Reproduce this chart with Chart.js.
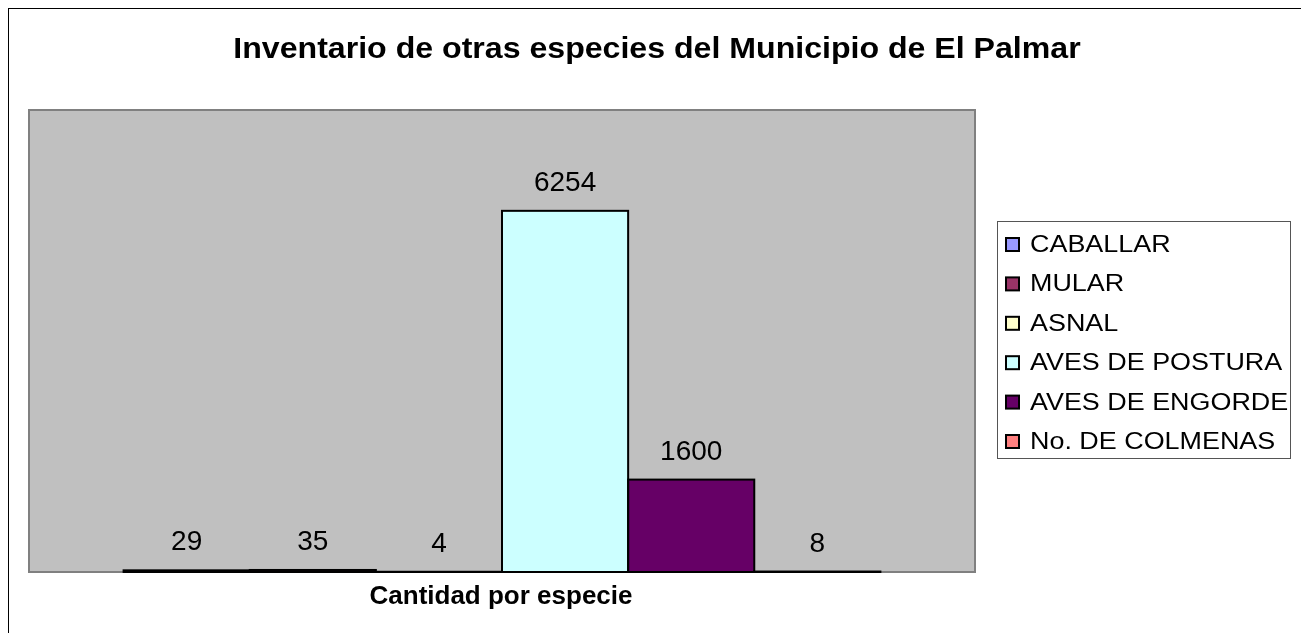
<!DOCTYPE html>
<html>
<head>
<meta charset="utf-8">
<script src="https://cdn.jsdelivr.net/npm/chart.js@4/dist/chart.umd.min.js"></script>
<style>
  html, body { margin: 0; padding: 0; background: #ffffff; }
  #c { display: block; }
</style>
</head>
<body>
<canvas id="c" width="1301" height="633"></canvas>
<script>
// ---- Data ----
const categories = ["Cantidad por especie"];
const seriesNames = ["CABALLAR", "MULAR", "ASNAL", "AVES DE POSTURA", "AVES DE ENGORDE", "No. DE COLMENAS"];
const seriesValues = [29, 35, 4, 6254, 1600, 8];
const seriesColors = ["#9999FF", "#993366", "#FFFFCC", "#CCFFFF", "#660066", "#FF8080"];
const chartTitle = "Inventario de otras especies del Municipio de El Palmar";
const axisTitle = "Cantidad por especie";

const FONT = "'Liberation Sans', Arial, sans-serif";

function drawText(ctx, text, x, y, font, align, sx) {
  ctx.save();
  ctx.font = font;
  ctx.fillStyle = "#000000";
  ctx.textBaseline = "alphabetic";
  ctx.textAlign = align;
  ctx.translate(x, y);
  ctx.scale(sx, 1);
  ctx.fillText(text, 0, 0);
  ctx.restore();
}

const decorPlugin = {
  id: "decor",
  beforeDraw(chart) {
    const ctx = chart.ctx;
    const a = chart.chartArea;
    ctx.save();
    ctx.fillStyle = "#ffffff";
    ctx.fillRect(0, 0, chart.width, chart.height);
    // outer chart border
    ctx.strokeStyle = "#000000";
    ctx.lineWidth = 1;
    ctx.strokeRect(8.5, 8.5, 1300, 640);
    // plot area
    ctx.fillStyle = "#C0C0C0";
    ctx.fillRect(a.left, a.top, a.right - a.left, a.bottom - a.top);
    ctx.strokeStyle = "#808080";
    ctx.lineWidth = 2;
    ctx.strokeRect(a.left, a.top, a.right - a.left, a.bottom - a.top);
    ctx.restore();
  },
  afterDatasetsDraw(chart) {
    const ctx = chart.ctx;
    // bar outlines
    chart.data.datasets.forEach((ds, i) => {
      const meta = chart.getDatasetMeta(i);
      meta.data.forEach((bar) => {
        const p = bar.getProps(["x", "y", "base", "width"], true);
        ctx.save();
        ctx.strokeStyle = "#000000";
        ctx.lineWidth = 2;
        ctx.strokeRect(p.x - p.width / 2, p.y, p.width, p.base - p.y);
        ctx.restore();
      });
    });
    // value labels
    chart.data.datasets.forEach((ds, i) => {
      const meta = chart.getDatasetMeta(i);
      meta.data.forEach((bar, j) => {
        drawText(ctx, String(ds.data[j]), bar.x, bar.y - 20, "28px " + FONT, "center", 1.0);
      });
    });
  },
  afterDraw(chart) {
    const ctx = chart.ctx;
    // title
    drawText(ctx, chartTitle, 657, 58, "bold 30px " + FONT, "center", 1.07);
    // axis title
    drawText(ctx, axisTitle, 501, 604, "bold 26px " + FONT, "center", 1.0);
    // legend box
    ctx.save();
    ctx.strokeStyle = "#555555";
    ctx.lineWidth = 1;
    ctx.strokeRect(997.5, 221.5, 293, 237);
    ctx.restore();
    chart.data.datasets.forEach((ds, i) => {
      const base = 252 + i * 39.4;
      ctx.save();
      ctx.fillStyle = ds.backgroundColor;
      ctx.fillRect(1006, base - 14, 13, 13);
      ctx.strokeStyle = "#000000";
      ctx.lineWidth = 2;
      ctx.strokeRect(1006, base - 14, 13, 13);
      ctx.restore();
      drawText(ctx, ds.label, 1030, base, "23px " + FONT, "left", 1.17);
    });
  }
};

const datasets = seriesNames.map((name, i) => ({
  label: name,
  data: [seriesValues[i]],
  backgroundColor: seriesColors[i],
  borderWidth: 0,
  categoryPercentage: 0.8,
  barPercentage: 1.0
}));

new Chart(document.getElementById("c"), {
  type: "bar",
  data: { labels: categories, datasets: datasets },
  options: {
    responsive: false,
    animation: false,
    devicePixelRatio: 1,
    layout: { padding: { left: 29, top: 110, right: 326, bottom: 61 } },
    plugins: {
      legend: { display: false },
      title: { display: false },
      tooltip: { enabled: false }
    },
    scales: {
      x: { display: false, grid: { display: false } },
      y: { display: false, min: 0, max: 8000, grid: { display: false } }
    }
  },
  plugins: [decorPlugin]
});
</script>
</body>
</html>
